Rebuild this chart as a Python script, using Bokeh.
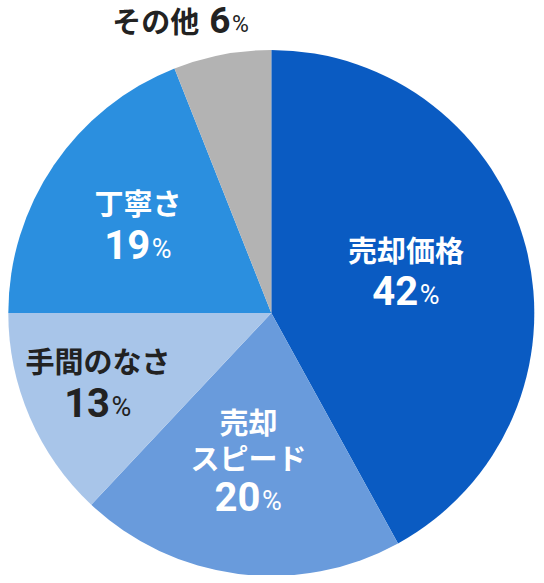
import math
from bokeh.plotting import figure
from bokeh.models import ColumnDataSource, Range1d
from bokeh.core.properties import value
from bokeh.embed import file_html
from bokeh.resources import INLINE

# ---- data ----
categories = ["売却価格", "売却スピード", "手間のなさ", "丁寧さ", "その他"]
label_lines = [["売却価格"], ["売却", "スピード"], ["手間のなさ"], ["丁寧さ"], ["その他"]]
shares = [42, 20, 13, 19, 6]
colors = ["#0a5bc2", "#699bdc", "#a8c5e9", "#2b8fdf", "#b3b3b3"]
text_colors = ["#ffffff", "#ffffff", "#222222", "#ffffff", "#222222"]

# ---- layout (pixel units) ----
W, H = 536, 575
CX, CY = 270.8, 312.5
R = 263.0

label_r = [0.525, 0.556, 0.71, 0.59, 1.153]
label_tweak = [-0.8, 1.7, 0.0, -2.3, -6.1]
line_dy = [[-27.0], [-38.0, -2.5], [-27.7], [-28.5], [0.0]]
line_dx = [0, 0, 0, 0, -26.5]
num_dy = [14.5, 37.5, 14.9, 14.5, 0.5]     # visual centre of digits
num_dx = [0, 0, 0, 0, 47.0]
fs_cjk = 29.0
fs_num = [40, 40, 40, 40, 37]
fs_pct = [27, 27, 27, 27, 23]

p = figure(width=W, height=H, output_backend="svg", toolbar_location=None,
           x_range=Range1d(-CX, W - CX), y_range=Range1d(-(H - CY), CY),
           min_border=0, outline_line_color=None, background_fill_color="white")
p.axis.visible = False
p.grid.visible = False

total = float(sum(shares))
starts, ends, cum = [], [], 0.0
for v in shares:
    starts.append(math.pi / 2 - 2 * math.pi * cum / total)
    cum += v
    ends.append(math.pi / 2 - 2 * math.pi * cum / total)

wsrc = ColumnDataSource(dict(x=[0] * len(shares), y=[0] * len(shares), start=starts, end=ends,
                             color=colors, cat=categories, share=shares))
p.wedge(x="x", y="y", radius=R, start_angle="start", end_angle="end", direction="clock",
        fill_color="color", line_color=None, source=wsrc)

cjk = dict(x=[], y=[], t=[], xo=[], yo=[], c=[])
nums = dict(x=[], y=[], t=[], xo=[], yo=[], c=[], fs=[])
pcts = dict(x=[], y=[], t=[], xo=[], yo=[], c=[], fs=[])

cum = 0.0
for i, v in enumerate(shares):
    mid = (cum + v / 2) / total * 360 + label_tweak[i]
    cum += v
    rr = label_r[i] * 266.0
    ax = rr * math.sin(math.radians(mid))
    ay = rr * math.cos(math.radians(mid))
    for ln, dy in zip(label_lines[i], line_dy[i]):
        cjk["x"].append(ax); cjk["y"].append(ay); cjk["t"].append(ln)
        cjk["xo"].append(line_dx[i]); cjk["yo"].append(dy); cjk["c"].append(text_colors[i])
    ns = str(v)
    numw = len(ns) * 0.562 * fs_num[i]
    pctw = 0.715 * fs_pct[i]
    gap = 1.5
    tot = numw + gap + pctw
    nright = num_dx[i] - tot / 2 + numw
    nums["x"].append(ax); nums["y"].append(ay); nums["t"].append(ns)
    nums["xo"].append(nright); nums["yo"].append(num_dy[i]); nums["c"].append(text_colors[i])
    nums["fs"].append("%dpx" % fs_num[i])
    pcts["x"].append(ax); pcts["y"].append(ay); pcts["t"].append("%")
    pcts["xo"].append(nright + gap)
    pcts["yo"].append(num_dy[i] + 0.34 * (fs_num[i] - fs_pct[i]))
    pcts["c"].append(text_colors[i])
    pcts["fs"].append("%dpx" % fs_pct[i])

p.text(x="x", y="y", text="t", x_offset="xo", y_offset="yo", text_color="c",
       source=ColumnDataSource(cjk), text_font=value("Noto Sans CJK JP"),
       text_font_style="bold", text_font_size=value("%dpx" % fs_cjk),
       text_align="center", text_baseline="middle")
p.text(x="x", y="y", text="t", x_offset="xo", y_offset="yo", text_color="c",
       source=ColumnDataSource(nums), text_font=value("Roboto"),
       text_font_style="bold", text_font_size="fs",
       text_align="right", text_baseline="middle")
p.text(x="x", y="y", text="t", x_offset="xo", y_offset="yo", text_color="c",
       source=ColumnDataSource(pcts), text_font=value("Roboto"),
       text_font_style="normal", text_font_size="fs",
       text_align="left", text_baseline="middle")

open("out.html", "w").write(file_html(p, INLINE))
